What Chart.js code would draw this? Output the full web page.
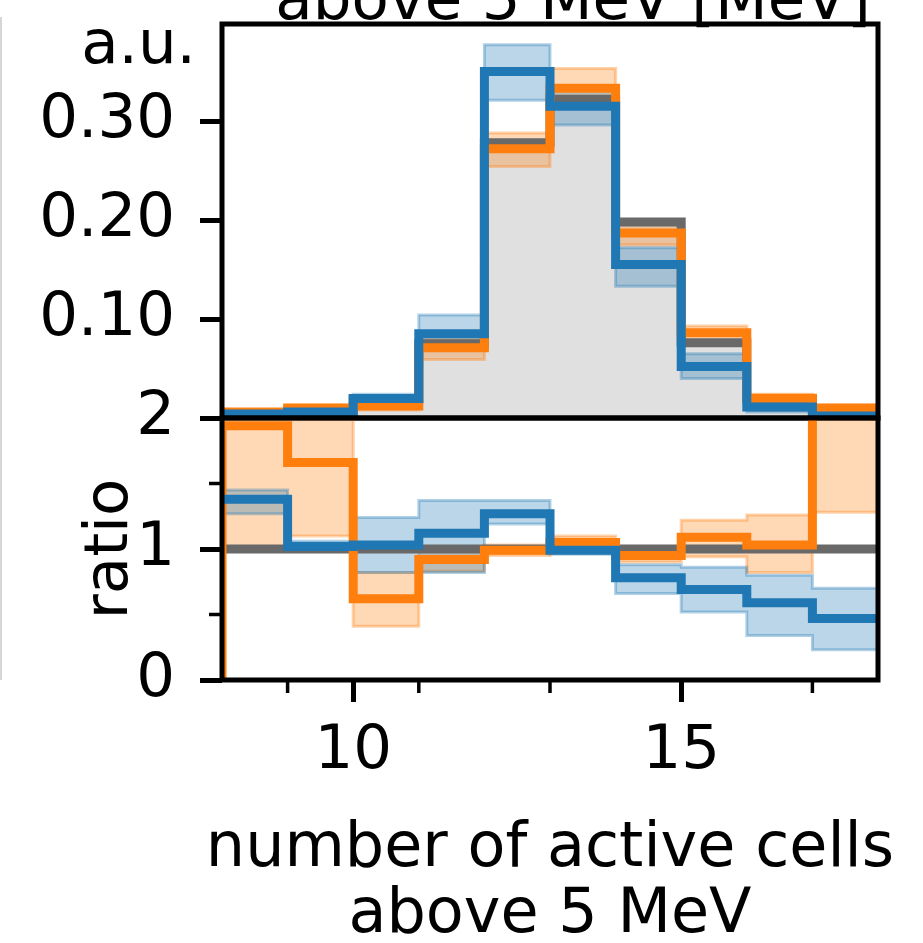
<!DOCTYPE html>
<html>
<head>
<meta charset="utf-8">
<script src="https://cdn.jsdelivr.net/npm/chart.js@4.4.1/dist/chart.umd.min.js"></script>
<style>
  html, body { margin: 0; padding: 0; background: #fff; }
  #wrap { position: relative; width: 923px; height: 943px; overflow: hidden; }
  canvas { position: absolute; left: 0; }
  #hist { top: 0; }
  #ratio { top: 380px; }
  #edge { position: absolute; left: 0; top: 17px; width: 2px; height: 663px; background: #d6d6d6; }
</style>
</head>
<body>
<div id="wrap">
  <div id="edge"></div>
  <canvas id="hist" width="923" height="440"></canvas>
  <canvas id="ratio" width="923" height="563"></canvas>
</div>
<script>
// bin edges: number of active cells above 5 MeV
const edges = [8, 9, 10, 11, 12, 13, 14, 15, 16, 17, 18];

// normalised distributions (a.u.)
const refHist    = [0.003, 0.006, 0.019, 0.075, 0.278, 0.322, 0.198, 0.076, 0.0195, 0.004];
const orangeHist = [0.006, 0.010, 0.012, 0.071, 0.272, 0.333, 0.187, 0.086, 0.020, 0.010];
const blueHist   = [0.004, 0.006, 0.0196, 0.085, 0.350, 0.315, 0.155, 0.052, 0.011, 0.002];

// uncertainty bands on the distributions
const orangeHistLo = [0.003, 0.008, 0.008, 0.059, 0.254, 0.315, 0.175, 0.078, 0.016, 0.007];
const orangeHistHi = [0.008, 0.013, 0.015, 0.080, 0.288, 0.353, 0.200, 0.093, 0.024, 0.013];
const blueHistLo   = [0.003, 0.005, 0.016, 0.070, 0.321, 0.296, 0.133, 0.040, 0.006, 0.001];
const blueHistHi   = [0.007, 0.009, 0.024, 0.104, 0.377, 0.335, 0.172, 0.065, 0.016, 0.004];

// ratio to the reference
const refRatio    = [1, 1, 1, 1, 1, 1, 1, 1, 1, 1];
const orangeRatio = [1.94, 1.66, 0.62, 0.92, 0.99, 1.05, 0.95, 1.09, 1.03, 2.4];
const blueRatio   = [1.38, 1.02, 1.03, 1.12, 1.27, 0.99, 0.78, 0.69, 0.59, 0.47];
const orangeRatioLo = [1.00, 1.10, 0.41, 0.83, 0.95, 1.00, 0.90, 0.94, 0.82, 1.28];
const orangeRatioHi = [2.90, 2.30, 0.82, 1.00, 1.03, 1.10, 1.00, 1.22, 1.26, 3.50];
const blueRatioLo   = [1.27, 0.98, 0.82, 0.82, 1.19, 0.96, 0.66, 0.52, 0.34, 0.23];
const blueRatioHi   = [1.45, 1.06, 1.24, 1.37, 1.37, 1.06, 0.88, 0.86, 0.80, 0.70];

// axis ticks
const histTicks = [0.1, 0.2, 0.3];
const ratioTicks = [0, 1, 2];
const ratioMinor = [0.5, 1.5];
const xTicks = [10, 15];
const xMinor = [9, 11, 13, 17];

const xTitle = ['number of active cells', 'above 5 MeV'];

const BLUE = '#1f77b4';
const ORANGE = '#ff7f0e';
const GREY = '#696969';

Chart.defaults.font.family = "'DejaVu Sans'";
Chart.defaults.font.size = 61;
Chart.defaults.color = '#000';

// histogram-style step points: one per bin edge, last value repeated at the right edge
function steps(vals, base) {
  const pts = vals.map((v, i) => ({ x: edges[i], y: v }));
  pts.push({ x: edges[edges.length - 1], y: vals[vals.length - 1] });
  if (base !== undefined) pts.unshift({ x: edges[0], y: base });
  return pts;
}

function stepLine(vals, color, base) {
  return {
    data: steps(vals, base), borderColor: color, borderWidth: 9,
    stepped: true, fill: false, pointRadius: 0, clip: 0,
    borderJoinStyle: 'miter', borderCapStyle: 'butt'
  };
}

// band = upper edge filled down to the following (lower) dataset
function band(lo, hi, rgb) {
  const edge = 'rgba(' + rgb + ',0.35)';
  return [
    { data: steps(hi), borderColor: edge, borderWidth: 3, stepped: true, pointRadius: 0, clip: 0,
      fill: '+1', backgroundColor: 'rgba(' + rgb + ',0.3)' },
    { data: steps(lo), borderColor: edge, borderWidth: 3, stepped: true, pointRadius: 0, clip: 0,
      fill: false }
  ];
}

// axes box and minor ticks
const frame = {
  id: 'frame',
  afterDraw(chart, args, opts) {
    const { ctx, chartArea: a, scales } = chart;
    ctx.save();
    ctx.strokeStyle = '#000';
    ctx.lineWidth = 5;
    ctx.strokeRect(a.left, a.top, a.right - a.left, a.bottom - a.top);
    ctx.lineWidth = 3.5;
    (opts.minorX || []).forEach(v => {
      const px = scales.x.getPixelForValue(v);
      ctx.beginPath(); ctx.moveTo(px, a.bottom); ctx.lineTo(px, a.bottom + 13); ctx.stroke();
    });
    (opts.minorY || []).forEach(v => {
      const py = scales.y.getPixelForValue(v);
      ctx.beginPath(); ctx.moveTo(a.left - 13, py); ctx.lineTo(a.left, py); ctx.stroke();
    });
    ctx.restore();
  }
};

// unit label and the label of the panel above
const labels = {
  id: 'labels',
  afterDraw(chart) {
    const ctx = chart.ctx;
    ctx.save();
    ctx.fillStyle = '#000';
    ctx.font = "61px 'DejaVu Sans'";
    ctx.textBaseline = 'alphabetic';
    ctx.textAlign = 'right';
    ctx.fillText('a.u.', 196, 63);
    ctx.textAlign = 'center';
    ctx.fillText('above 5 MeV [MeV]', 573, 19);
    ctx.restore();
  }
};

// two-line x axis title, allowed to run wider than the axes
const xLabel = {
  id: 'xLabel',
  afterDraw(chart) {
    const { ctx, chartArea: a } = chart;
    const cx = (a.left + a.right) / 2;
    ctx.save();
    ctx.fillStyle = '#000';
    ctx.font = "62px 'DejaVu Sans'";
    ctx.textAlign = 'center';
    ctx.textBaseline = 'alphabetic';
    xTitle.forEach((line, i) => ctx.fillText(line, cx, a.bottom + 186 + i * 66));
    ctx.restore();
  }
};

function fixWidth(w) {
  return scale => { scale.width = w; scale.paddingTop = 0; scale.paddingBottom = 0; };
}

new Chart(document.getElementById('hist'), {
  type: 'line',
  data: {
    datasets: [
      stepLine(blueHist, BLUE),
      stepLine(orangeHist, ORANGE),
      stepLine(refHist, GREY),
      ...band(blueHistLo, blueHistHi, '31,119,180'),
      ...band(orangeHistLo, orangeHistHi, '255,127,14'),
      { data: steps(refHist), borderWidth: 0, stepped: true, pointRadius: 0, clip: 0,
        fill: 'origin', backgroundColor: '#e0e0e0' }
    ]
  },
  options: {
    responsive: false, animation: false, devicePixelRatio: 1, events: [],
    layout: { padding: { left: 0, right: 45, top: 24, bottom: 22 } },
    plugins: { legend: { display: false }, tooltip: { enabled: false },
      frame: {} },
    scales: {
      x: { type: 'linear', min: 8, max: 18, display: false },
      y: {
        min: 0, max: 0.398,
        afterBuildTicks: s => { s.ticks = histTicks.map(v => ({ value: v })); },
        afterFit: fixWidth(222),
        border: { display: false },
        grid: { drawOnChartArea: false, drawTicks: true, tickLength: 22, tickWidth: 5, tickColor: '#000' },
        ticks: { padding: 25, callback: v => v.toFixed(2) }
      }
    }
  },
  plugins: [frame, labels]
});

new Chart(document.getElementById('ratio'), {
  type: 'line',
  data: {
    datasets: [
      stepLine(blueRatio, BLUE),
      stepLine(orangeRatio, ORANGE, 0),
      stepLine(refRatio, GREY),
      ...band(blueRatioLo, blueRatioHi, '31,119,180'),
      ...band(orangeRatioLo, orangeRatioHi, '255,127,14')
    ]
  },
  options: {
    responsive: false, animation: false, devicePixelRatio: 1, events: [],
    layout: { padding: { left: 0, right: 45, top: 38, bottom: 0 } },
    plugins: { legend: { display: false }, tooltip: { enabled: false },
      frame: { minorX: xMinor, minorY: ratioMinor } },
    scales: {
      x: {
        type: 'linear', min: 8, max: 18,
        afterBuildTicks: s => { s.ticks = xTicks.map(v => ({ value: v })); },
        afterFit: s => { s.height = 263; s.paddingLeft = 0; s.paddingRight = 0; },
        border: { display: false },
        grid: { drawOnChartArea: false, drawTicks: true, tickLength: 22, tickWidth: 5, tickColor: '#000' },
        ticks: { padding: 20, maxRotation: 0, font: { lineHeight: 1 } }
      },
      y: {
        min: 0, max: 2,
        afterBuildTicks: s => { s.ticks = ratioTicks.map(v => ({ value: v })); },
        afterFit: fixWidth(222),
        border: { display: false },
        grid: { drawOnChartArea: false, drawTicks: true, tickLength: 22, tickWidth: 5, tickColor: '#000' },
        ticks: { padding: 25 },
        title: { display: true, text: 'ratio', font: { lineHeight: 1 }, padding: { top: 81, bottom: 0 } }
      }
    }
  },
  plugins: [frame, xLabel]
});
</script>
</body>
</html>
